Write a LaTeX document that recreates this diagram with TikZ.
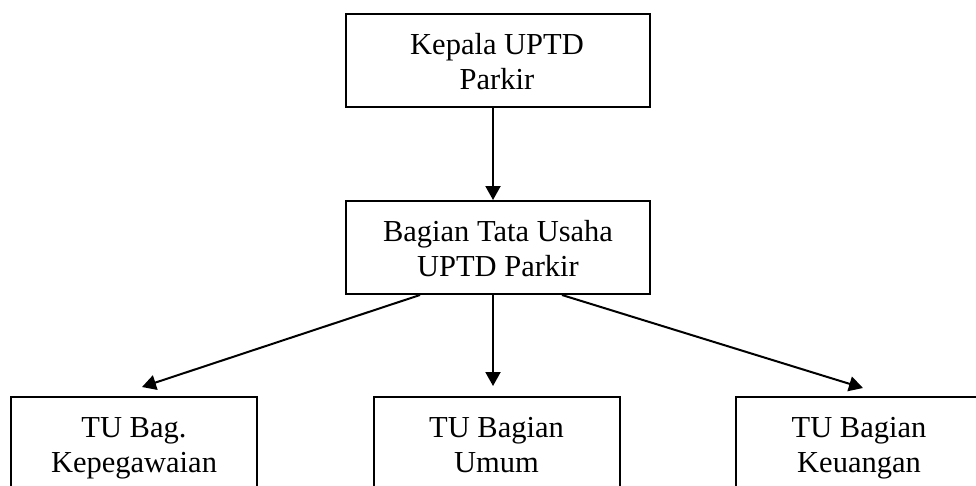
\documentclass[tikz,border=0pt]{standalone}
\usepackage{fontspec}
\setmainfont{Liberation Serif}
\usetikzlibrary{arrows.meta}
\begin{document}
\begin{tikzpicture}[x=1pt,y=-1pt,
  box/.style={draw=black, line width=2pt, rectangle, inner sep=0pt, minimum height=93pt},
  wide/.style={box, minimum width=304pt},
  narrow/.style={box, minimum width=246pt},
  lbl/.style={inner sep=0pt, align=center, anchor=base, font=\fontsize{30.5}{35}\selectfont},
  arr/.style={line width=2pt, -{Triangle[length=14pt,width=15pt]}}]
\useasboundingbox[fill=white] (0,0) rectangle (976,485);
\node[wide] (top) at (498,60.5) {};
\node[wide] (mid) at (498,247.5) {};
\node[narrow] (left) at (134,443.5) {};
\node[narrow] (center) at (496.5,443.5) {};
\node[narrow] (right) at (859,443.5) {};
\node[lbl] (toptxt) at (497,89) {Kepala UPTD\\Parkir};
\node[lbl] (midtxt) at (498,276) {Bagian Tata Usaha\\UPTD Parkir};
\node[lbl] (lefttxt) at (134,472) {TU Bag.\\Kepegawaian};
\node[lbl] (centertxt) at (496.5,472) {TU Bagian\\Umum};
\node[lbl] (righttxt) at (859,472) {TU Bagian\\Keuangan};
\draw[arr] ([xshift=-5pt]top.south) -- ([xshift=-5pt]mid.north);
\coordinate (lt) at ([xshift=8pt,yshift=9pt]left.north);
\coordinate (ct) at ([xshift=-3.5pt,yshift=10pt]center.north);
\coordinate (rt) at ([xshift=4pt,yshift=8pt]right.north);
\draw[arr] ([xshift=-78pt]mid.south) -- (lt);
\draw[arr] ([xshift=-5pt]mid.south) -- (ct);
\draw[arr] ([xshift=64pt]mid.south) -- (rt);
\end{tikzpicture}
\end{document}
